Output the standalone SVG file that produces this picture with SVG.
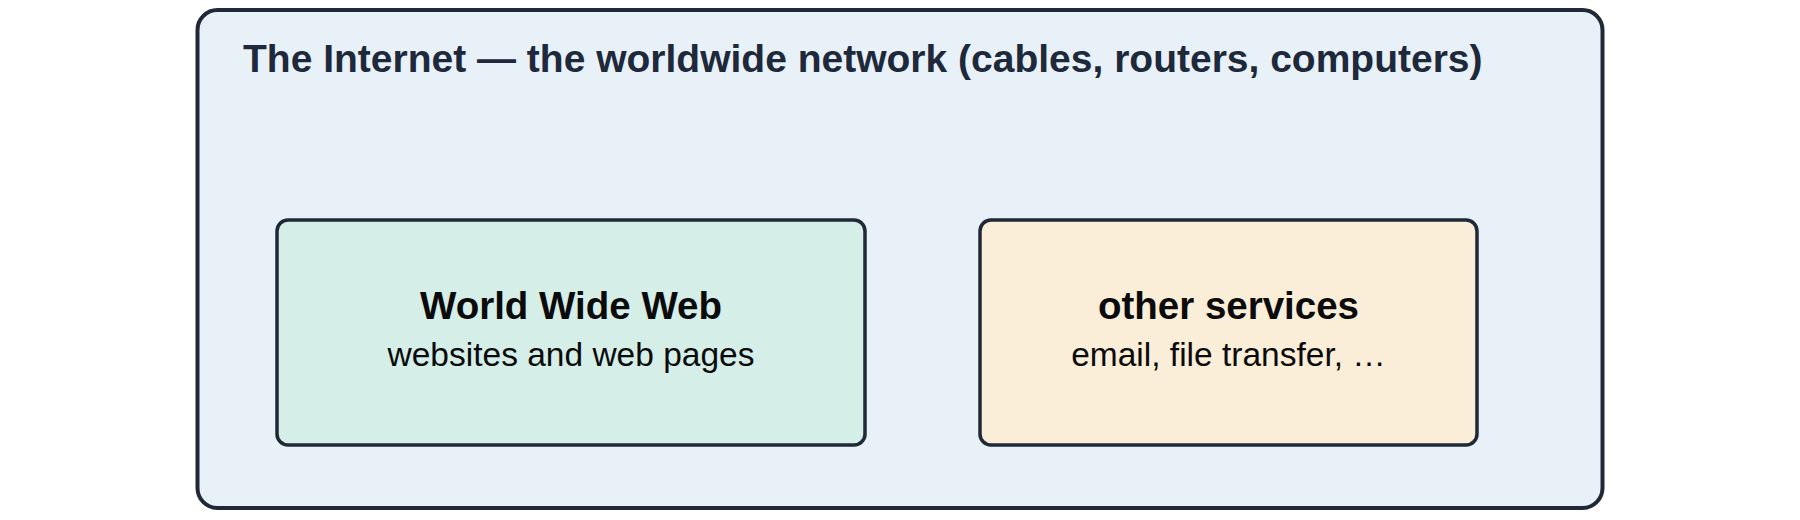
<svg xmlns="http://www.w3.org/2000/svg" width="1800" height="520" viewBox="0 0 1800 520">
<style>
.box{stroke:#1f2937;stroke-width:3.5}
.outer{fill:#e9f1f8;stroke:#1f2937;stroke-width:4}
.ttl{font-family:"Liberation Sans",Arial,sans-serif;font-weight:bold;fill:#1e293b}
.nt{font-family:"Liberation Sans",Arial,sans-serif;font-weight:bold;font-size:38.5px;fill:#0b0b0b;text-anchor:middle}
.ns{font-family:"Liberation Sans",Arial,sans-serif;font-size:33.5px;fill:#0b0b0b;text-anchor:middle}
</style>
<rect width="1800" height="520" fill="#ffffff"/>
<g id="internet">
<rect class="outer" x="197.5" y="10" width="1405" height="498" rx="20"/>
<text class="ttl" x="243" y="72" font-size="39">The Internet — the worldwide network (cables, routers, computers)</text>
</g>
<g id="www">
<rect class="box" x="277" y="220" width="588" height="225" rx="11" fill="#d5eee8"/>
<text class="nt" x="571" y="319">World Wide Web</text>
<text class="ns" x="571" y="366">websites and web pages</text>
</g>
<g id="other">
<rect class="box" x="980" y="220" width="497" height="225" rx="11" fill="#faeed8"/>
<text class="nt" x="1228.5" y="319">other services</text>
<text class="ns" x="1228.5" y="366">email, file transfer, …</text>
</g>
<g id="connectors"></g>
</svg>
